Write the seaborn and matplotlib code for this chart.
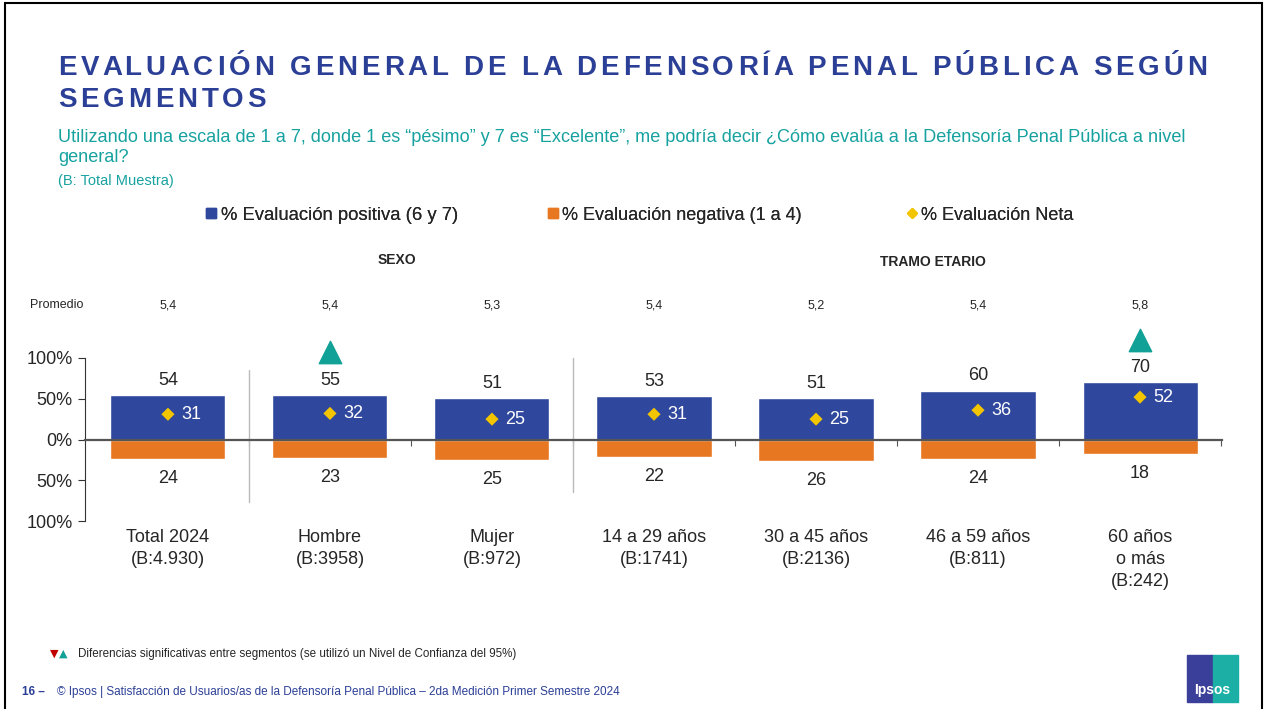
import numpy as np
import pandas as pd
import seaborn as sns
import matplotlib.pyplot as plt
from matplotlib.lines import Line2D
from matplotlib.patches import Rectangle
from matplotlib.textpath import TextToPath
from matplotlib.font_manager import FontProperties

# data
categories = ["Total 2024\n(B:4.930)", "Hombre\n(B:3958)", "Mujer\n(B:972)",
              "14 a 29 años\n(B:1741)", "30 a 45 años\n(B:2136)",
              "46 a 59 años\n(B:811)", "60 años\no más\n(B:242)"]
positive = [54, 55, 51, 53, 51, 60, 70]
negative = [24, 23, 25, 22, 26, 24, 18]
net = [31, 32, 25, 31, 25, 36, 52]
promedio = ["5,4", "5,4", "5,3", "5,4", "5,2", "5,4", "5,8"]
sig_up = [False, True, False, False, False, False, True]
legend_labels = ["% Evaluación positiva (6 y 7)", "% Evaluación negativa (1 a 4)", "% Evaluación Neta"]
title_lines = ["EVALUACIÓN GENERAL DE LA DEFENSORÍA PENAL PÚBLICA SEGÚN", "SEGMENTOS"]

BLUE = "#2F479C"
ORANGE = "#E87722"
YELLOW = "#F2C500"
TEAL = "#12A196"
TITLE_BLUE = "#2B3F96"
SUB_TEAL = "#17A2A0"

sns.set_style("white")
plt.rcParams['font.family'] = ['Liberation Sans', 'DejaVu Sans']

df = pd.DataFrame({"cat": categories, "pos": positive,
                   "neg": [-v for v in negative], "net": net})
df["idx"] = np.arange(len(df))

W, H = 1266, 709
fig = plt.figure(figsize=(W / 100, H / 100), dpi=100)
ax = fig.add_axes([85 / W, 1 - 521 / H, (1222 - 85) / W, 163 / H])

sns.barplot(data=df, x="cat", y="pos", color=BLUE, saturation=1, width=0.71, ax=ax)
sns.barplot(data=df, x="cat", y="neg", color=ORANGE, saturation=1, width=0.71, ax=ax)
sns.scatterplot(data=df, x="idx", y="net", marker="D", color=YELLOW, s=45,
                edgecolor="none", ax=ax, legend=False, zorder=5)

# value labels
for i, row in df.iterrows():
    ax.text(i, row["pos"] + 18, f"{row['pos']}", ha="center", va="center", fontsize=13)
    ax.text(i, row["neg"] - 24, f"{-row['neg']}", ha="center", va="center", fontsize=13)
    ax.text(i + 0.08, row["net"], f"{row['net']}", ha="left", va="center",
            fontsize=13, color="white", zorder=6)
    ax.text(i, 1.32, promedio[i], transform=ax.get_xaxis_transform(),
            ha="center", va="center", fontsize=9)
    ax.text(i, -110, row["cat"], ha="center", va="top", fontsize=13, linespacing=1.38)

sig = df[sig_up]
ax.scatter(sig["idx"], sig["pos"] + 52, marker="^", s=260, color=TEAL, clip_on=False, zorder=6)

# separators between groups
ax.plot([0.5, 0.5], [85, -77], color="#BBBBBB", lw=1, clip_on=False)
ax.plot([2.5, 2.5], [100, -65], color="#BBBBBB", lw=1, clip_on=False)

ax.set_xlim(-0.512, 6.506)
ax.set_ylim(-100, 100)
ax.set_yticks([-100, -50, 0, 50, 100])
ax.set_yticklabels([f"{abs(v)}%" for v in [-100, -50, 0, 50, 100]], fontsize=13)
ax.set_xticks(np.arange(0.5, 6.6, 1))
ax.set_xticklabels([])
ax.set_xlabel("")
ax.set_ylabel("")
ax.spines["top"].set_visible(False)
ax.spines["right"].set_visible(False)
ax.spines["bottom"].set_position(("data", 0))
ax.spines["bottom"].set_color("#555555")
ax.spines["bottom"].set_linewidth(1.6)
ax.spines["bottom"].set_zorder(4)
ax.spines["left"].set_color("#333333")
ax.tick_params(axis="x", direction="out", length=4, color="#555555", bottom=True)
ax.tick_params(axis="y", direction="out", length=5, color="#333333", left=True, pad=4)

# legend, one entry per slot like on the slide
handles = [Line2D([], [], marker="s", color=BLUE, ls="", markersize=7),
           Line2D([], [], marker="s", color=ORANGE, ls="", markersize=7),
           Line2D([], [], marker="D", color=YELLOW, ls="", markersize=5)]
for h, lab, xpx, fs in zip(handles, legend_labels, [203, 545, 904], [13.3, 13, 13]):
    leg = fig.legend([h], [lab], loc="center left", bbox_to_anchor=(xpx / W, 1 - 215 / H),
                     frameon=False, fontsize=fs, handletextpad=0.05, handlelength=0.9,
                     borderaxespad=0, borderpad=0)
    fig.add_artist(leg)

# title with letter spacing
ttp = TextToPath()
tprop = FontProperties(family="Liberation Sans", weight="bold", size=20)
bar_w = ttp.get_text_width_height_descent("|", tprop, ismath=False)[0]


def text_width_px(s):
    return (ttp.get_text_width_height_descent(s + "|", tprop, ismath=False)[0] - bar_w) * 100 / 72


spacing = (1149 - text_width_px(title_lines[0])) / (len(title_lines[0]) - 1)
for line, base_y in zip(title_lines, [75, 107]):
    for k, ch in enumerate(line):
        xpx = 58 + text_width_px(line[:k]) + k * spacing
        fig.text(xpx / W, 1 - base_y / H, ch, fontproperties=tprop, color=TITLE_BLUE,
                 va="baseline", ha="left")

fig.text(58 / W, 1 - 129 / H,
         "Utilizando una escala de 1 a 7, donde 1 es “pésimo” y 7 es “Excelente”, me podría decir ¿Cómo evalúa a la Defensoría Penal Pública a nivel\ngeneral?",
         fontsize=13.1, color=SUB_TEAL, va="top", linespacing=1.2)
fig.text(58 / W, 1 - 181 / H, "(B: Total Muestra)", fontsize=10.5, color=SUB_TEAL, va="center")
fig.text(30 / W, 1 - 305 / H, "Promedio", fontsize=9, va="center")
fig.text(397 / W, 1 - 260 / H, "SEXO", fontsize=10, fontweight="bold", ha="center", va="center")
fig.text(933 / W, 1 - 262 / H, "TRAMO ETARIO", fontsize=10, fontweight="bold", ha="center", va="center")

# footnotes
fig.text(50 / W, 1 - 654 / H, "▼", color="#C00000", fontsize=8, family="DejaVu Sans", va="center")
fig.text(59 / W, 1 - 654 / H, "▲", color=TEAL, fontsize=8, family="DejaVu Sans", va="center")
fig.text(78 / W, 1 - 654 / H, "Diferencias significativas entre segmentos (se utilizó un Nivel de Confianza del 95%)",
         fontsize=8.4, va="center")
fig.text(22 / W, 1 - 692 / H, "16 –", fontsize=8.5, fontweight="bold", color=TITLE_BLUE, va="center")
fig.text(57 / W, 1 - 692 / H,
         "© Ipsos | Satisfacción de Usuarios/as de la Defensoría Penal Pública – 2da Medición Primer Semestre 2024",
         fontsize=8.45, color=TITLE_BLUE, va="center")

# ipsos logo
fig.add_artist(Rectangle((1187 / W, 1 - 702 / H), 26 / W, 47 / H, color="#3A3F99", transform=fig.transFigure))
fig.add_artist(Rectangle((1213 / W, 1 - 702 / H), 25 / W, 47 / H, color="#1BAFA5", transform=fig.transFigure))
fig.text(1212 / W, 1 - 690 / H, "Ipsos", color="white", fontsize=10, fontweight="bold", ha="center", va="center")

# slide frame
fig.add_artist(Rectangle((5 / W, -0.01), 1257 / W, 1.01 - 3 / H, fill=False, ec="black", lw=1.5,
                         transform=fig.transFigure))

fig.savefig("out.png", dpi=100)
